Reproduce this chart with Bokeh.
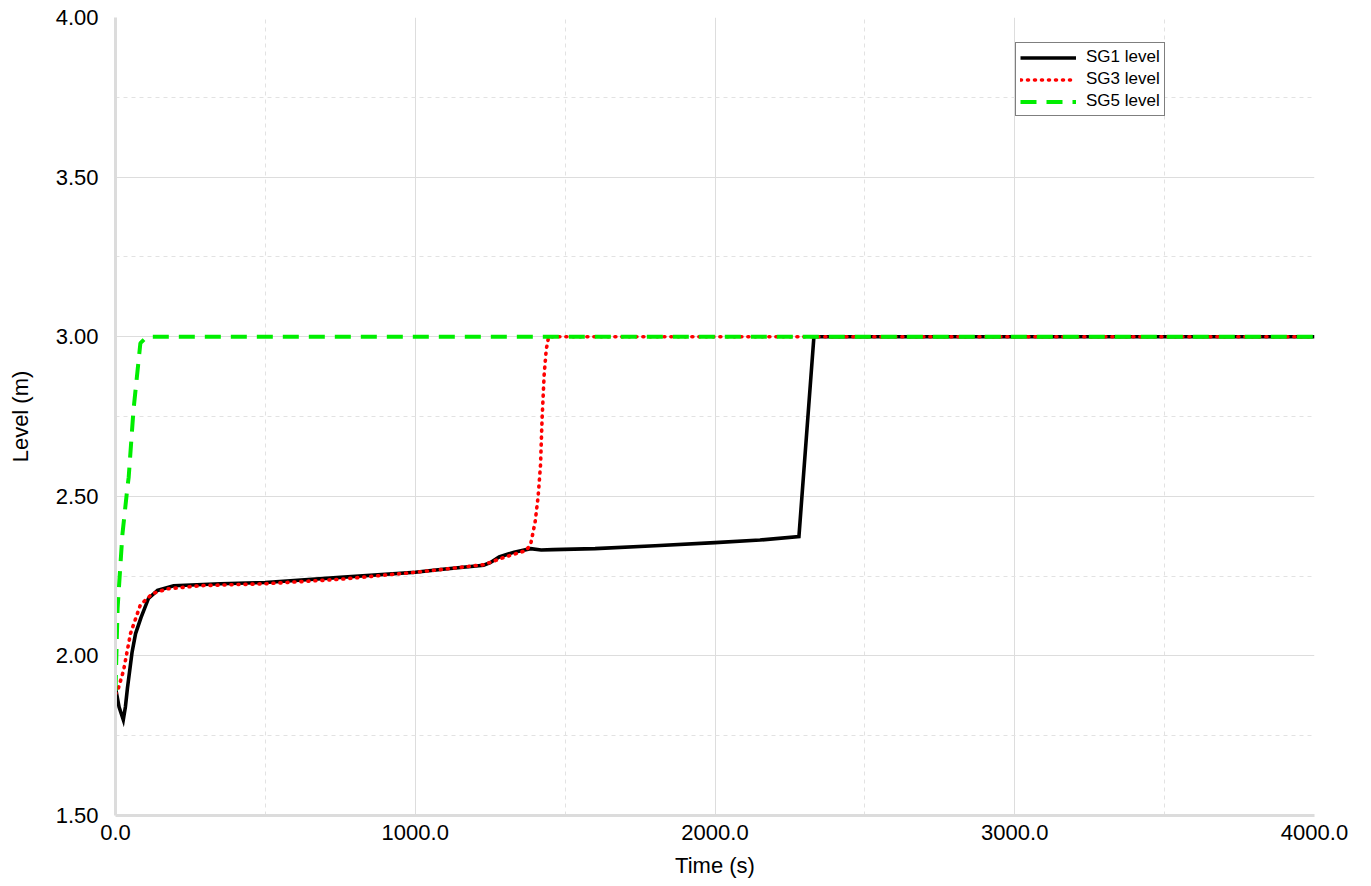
from bokeh.plotting import figure
from bokeh.models import Range1d, SingleIntervalTicker, NumeralTickFormatter, Legend, LegendItem
from bokeh.embed import file_html
from bokeh.resources import INLINE

# SG1 level (black)
sg1_t = [0, 12, 26, 33, 40, 55, 67, 85, 110, 140, 194, 350, 500, 750, 1000, 1100, 1228, 1250, 1280, 1330, 1385, 1420, 1460, 1600, 1800, 2000, 2150, 2280, 2330, 4000]
sg1_v = [1.90, 1.84, 1.80, 1.84, 1.90, 2.01, 2.07, 2.12, 2.18, 2.205, 2.22, 2.226, 2.23, 2.246, 2.262, 2.272, 2.284, 2.292, 2.31, 2.325, 2.336, 2.332, 2.333, 2.336, 2.345, 2.355, 2.363, 2.374, 3.0, 3.0]

# SG3 level (red)
sg3_t = [0, 10, 27, 50, 83, 123, 173, 283, 500, 750, 1000, 1100, 1230, 1300, 1370, 1385, 1400, 1410, 1418, 1423, 1430, 1437, 1445, 4000]
sg3_v = [1.88, 1.90, 1.955, 2.07, 2.16, 2.195, 2.21, 2.22, 2.226, 2.24, 2.262, 2.272, 2.286, 2.31, 2.33, 2.35, 2.42, 2.50, 2.60, 2.74, 2.88, 2.96, 3.0, 3.0]

# SG5 level (green)
sg5_t = [0, 1, 7, 23, 40, 44, 60, 83, 105, 4000]
sg5_v = [1.89, 1.93, 2.15, 2.38, 2.53, 2.56, 2.77, 2.98, 3.0, 3.0]

FONT = "Liberation Sans"

p = figure(width=1371, height=886, output_backend="svg", toolbar_location=None,
           x_range=Range1d(0, 4000), y_range=Range1d(1.5, 4.0),
           min_border_left=115, min_border_top=17, min_border_right=57, min_border_bottom=71)
p.outline_line_color = None
p.background_fill_color = "white"
p.border_fill_color = "white"

p.xaxis.ticker = SingleIntervalTicker(interval=1000, num_minor_ticks=2)
p.yaxis.ticker = SingleIntervalTicker(interval=0.5, num_minor_ticks=2)
p.xaxis.formatter = NumeralTickFormatter(format="0.0")
p.yaxis.formatter = NumeralTickFormatter(format="0.00")

for ax in (p.xaxis[0], p.yaxis[0]):
    ax.axis_line_color = "#dcdcdc"
    ax.axis_line_width = 3
    ax.major_tick_line_color = None
    ax.minor_tick_line_color = None
    ax.major_tick_out = 0
    ax.major_tick_in = 0
    ax.minor_tick_out = 0
    ax.major_label_text_font = FONT
    ax.major_label_text_font_size = "22px"
    ax.major_label_text_color = "black"
    ax.axis_label_text_font = FONT
    ax.axis_label_text_font_size = "22px"
    ax.axis_label_text_font_style = "normal"
    ax.axis_label_text_color = "black"

p.xaxis.axis_label = "Time (s)"
p.yaxis.axis_label = "Level (m)"
p.xaxis.major_label_standoff = 9
p.xaxis.axis_label_standoff = 10
p.yaxis.major_label_standoff = 17
p.yaxis.axis_label_standoff = 20

for g in (p.xgrid[0], p.ygrid[0]):
    g.grid_line_color = "#dddddd"
    g.grid_line_width = 1
    g.minor_grid_line_color = "#e2e2e2"
    g.minor_grid_line_dash = "4 4"
    g.minor_grid_line_width = 1

r1 = p.line(sg1_t, sg1_v, line_color="black", line_width=3.6, line_join="miter")
r3 = p.line(sg3_t, sg3_v, line_color="#ff0000", line_width=3.6, line_dash="1 6", line_cap="round")
r5 = p.line(sg5_t, sg5_v, line_color="#00ee00", line_width=4, line_dash="16 10")

legend = Legend(items=[LegendItem(label="SG1 level", renderers=[r1]),
                       LegendItem(label="SG3 level", renderers=[r3]),
                       LegendItem(label="SG5 level", renderers=[r5])],
                location=(900, 699))
legend.border_line_color = "black"
legend.border_line_width = 1
legend.background_fill_color = "white"
legend.background_fill_alpha = 1
legend.label_text_font = FONT
legend.label_text_font_size = "17px"
legend.label_text_color = "black"
legend.glyph_width = 56
legend.glyph_height = 19
legend.label_height = 19
legend.label_standoff = 10
legend.spacing = 2
legend.padding = 4
legend.margin = 0
p.add_layout(legend, "center")

open("out.html", "w").write(file_html(p, INLINE))
